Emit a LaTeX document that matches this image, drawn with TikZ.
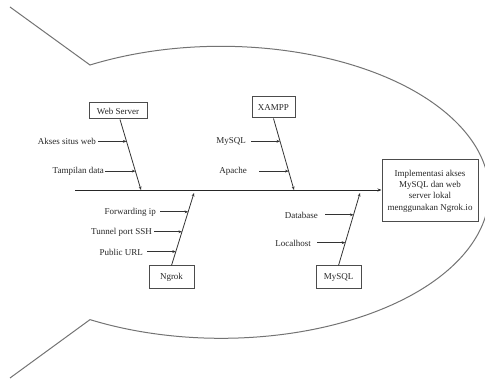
\documentclass[tikz,border=0pt]{standalone}
\usepackage{fontspec}
\setmainfont{Liberation Serif}
\usetikzlibrary{arrows.meta,calc}
\begin{document}
\begin{tikzpicture}[x=1pt,y=-1pt,
  every node/.style={font=\fontsize{9}{11.3}\selectfont, text=black!85},
  catbox/.style={draw=black!70, line width=1pt, inner sep=0pt},
  lbl/.style={anchor=east, inner ysep=1pt},
  rib/.style={draw=black!80, line width=0.8pt, -{Stealth[length=3.5pt,width=2.8pt]}},
  sub/.style={draw=black!80, line width=0.7pt, -{Stealth[length=3.5pt,width=2.8pt]}},
  spine/.style={draw=black!85, line width=0.9pt, -{Stealth[length=4pt,width=3pt]}},
  outline/.style={draw=black!55, line width=1pt}
]
\useasboundingbox (0,0) rectangle (485,379);

% fish outline
\draw[outline] (10,7) -- (90,65)
  arc[start angle=119.3, end angle=-119.3, x radius=268pt, y radius=146pt]
  -- (10,378);

% head
\node[catbox, minimum width=96pt, minimum height=62pt, align=center] (main) at (430,191)
  {Implementasi akses\\MySQL dan web\\server lokal\\menggunakan Ngrok.io};

% spine
\coordinate (sp) at (75,190);
\draw[spine] (sp) -- (sp -| main.west);

% category boxes
\node[catbox, minimum width=58pt, minimum height=16pt] (ws) at (118,111) {Web Server};
\node[catbox, minimum width=43pt, minimum height=21pt] (xa) at (273.5,107.5) {XAMPP};
\node[catbox, minimum width=45pt, minimum height=23pt] (ng) at (171.5,277.5) {Ngrok};
\node[catbox, minimum width=45pt, minimum height=23pt] (ms) at (338.5,277.5) {MySQL};

% rib ends on spine
\coordinate (wsS) at ([xshift=2pt]ws.south);
\coordinate (wsA) at (141,190);
\coordinate (xaA) at (294,190);
\coordinate (ngA) at (194,193);
\coordinate (msA) at (360,193);

\draw[rib] (wsS) -- (wsA);
\draw[rib] (xa.south) -- (xaA);
\draw[rib] (ng.north) -- (ngA);
\draw[rib] (ms.north) -- (msA);

% tip points on ribs
\coordinate (t1) at ($(wsS)!0.31!(wsA)$);
\coordinate (t2) at ($(wsS)!0.732!(wsA)$);
\coordinate (t3) at ($(xa.south)!0.319!(xaA)$);
\coordinate (t4) at ($(xa.south)!0.736!(xaA)$);
\coordinate (t5) at ($(ng.north)!0.740!(ngA)$);
\coordinate (t6) at ($(ng.north)!0.466!(ngA)$);
\coordinate (t7) at ($(ng.north)!0.192!(ngA)$);
\coordinate (t8) at ($(ms.north)!0.699!(msA)$);
\coordinate (t9) at ($(ms.north)!0.315!(msA)$);

% labels
\node[lbl, inner xsep=2pt] (l1) at (98,141) {Akses situs web};
\node[lbl, inner xsep=1pt] (l2) at (105,171) {Tampilan data};
\node[lbl, inner xsep=5pt] (l3) at (251,141) {MySQL};
\node[lbl, inner xsep=12pt] (l4) at (259,171) {Apache};
\node[lbl, inner xsep=4pt] (l5) at (160,212) {Forwarding ip};
\node[lbl, inner xsep=2pt] (l6) at (154,232) {Tunnel port SSH};
\node[lbl, inner xsep=4pt] (l7) at (147,252) {Public URL};
\node[lbl, inner xsep=7pt] (l8) at (325,215) {Database};
\node[lbl, inner xsep=6pt] (l9) at (317,243) {Localhost};

\draw[sub] (l1.east |- t1) -- (t1);
\draw[sub] (l2.east |- t2) -- (t2);
\draw[sub] (l3.east |- t3) -- (t3);
\draw[sub] (l4.east |- t4) -- (t4);
\draw[sub] (l5.east |- t5) -- (t5);
\draw[sub] (l6.east |- t6) -- (t6);
\draw[sub] (l7.east |- t7) -- (t7);
\draw[sub] (l8.east |- t8) -- (t8);
\draw[sub] (l9.east |- t9) -- (t9);
\end{tikzpicture}
\end{document}
